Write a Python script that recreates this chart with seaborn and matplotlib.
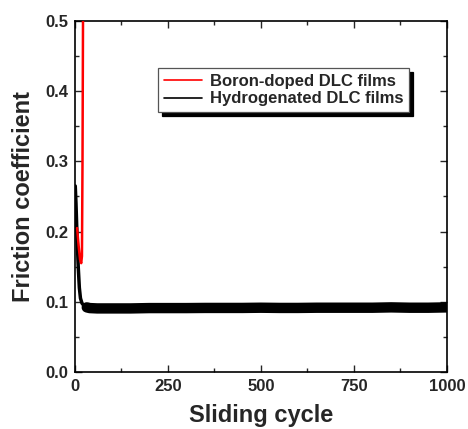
import numpy as np
import pandas as pd
import matplotlib
matplotlib.use('Agg')
import matplotlib.pyplot as plt
import seaborn as sns
from matplotlib.ticker import MultipleLocator
from matplotlib.lines import Line2D

# values
boron_cycle = [6, 10, 14, 17, 19, 20.5, 21.5, 22.5]
boron_cof = [0.205, 0.18, 0.16, 0.155, 0.165, 0.3, 0.45, 0.6]

hydro_cycle = [1, 3, 6, 9, 12, 15, 19, 25, 32, 40, 60, 100, 150, 200, 250, 300, 350, 400,
               450, 500, 550, 600, 650, 700, 750, 800, 850, 900, 950, 1000]
hydro_cof = [0.265, 0.24, 0.19, 0.15, 0.12, 0.105, 0.098, 0.094, 0.092, 0.091, 0.0905, 0.0905,
             0.0905, 0.091, 0.091, 0.091, 0.0912, 0.0912, 0.0912, 0.0915, 0.0912, 0.0912,
             0.0915, 0.0915, 0.0915, 0.0915, 0.092, 0.0915, 0.0915, 0.092]

boron = pd.DataFrame({'cycle': boron_cycle, 'cof': boron_cof})
hydro = pd.DataFrame({'cycle': hydro_cycle, 'cof': hydro_cof})
steady = hydro[hydro['cycle'] >= 32]  # the noisy band after running-in

sns.set_style('ticks')
plt.rcParams['font.family'] = ['Liberation Sans', 'DejaVu Sans']
plt.rcParams['font.weight'] = 'bold'

fig = plt.figure(figsize=(4.68, 4.29), dpi=100)
ax = fig.add_axes([0.160, 0.133, 0.795, 0.818])

sns.lineplot(data=hydro, x='cycle', y='cof', ax=ax, color='black', lw=2.5, zorder=2)
sns.lineplot(data=steady, x='cycle', y='cof', ax=ax, color='black', lw=7.5, zorder=2)
sns.lineplot(data=boron, x='cycle', y='cof', ax=ax, color='red', lw=1.8, zorder=3)

ax.set_xlim(0, 1000)
ax.set_ylim(0, 0.5)
ax.xaxis.set_major_locator(MultipleLocator(250))
ax.xaxis.set_minor_locator(MultipleLocator(125))
ax.yaxis.set_major_locator(MultipleLocator(0.1))
ax.yaxis.set_minor_locator(MultipleLocator(0.05))
ax.yaxis.set_major_formatter(plt.FormatStrFormatter('%.1f'))
ax.tick_params(which='both', direction='in', top=True, right=True, width=1, labelsize=12, pad=5)
ax.tick_params(which='major', length=5)
ax.tick_params(which='minor', length=3)
for lbl in ax.get_xticklabels() + ax.get_yticklabels():
    lbl.set_fontweight('bold')
for s in ax.spines.values():
    s.set_linewidth(1.2)
    s.set_color('black')

ax.set_xlabel('Sliding cycle', fontsize=17, fontweight='bold', labelpad=7)
ax.set_ylabel('Friction coefficient', fontsize=17, fontweight='bold', labelpad=7)

handles = [Line2D([], [], color='red', lw=1.2), Line2D([], [], color='black', lw=1.2)]
leg = ax.legend(handles, ['Boron-doped DLC films', 'Hydrogenated DLC films'],
                loc='upper left', bbox_to_anchor=(0.223, 0.866), borderaxespad=0,
                fancybox=False, prop={'size': 12, 'weight': 'bold'},
                handlelength=2.3, handletextpad=0.45, labelspacing=0.15, borderpad=0.35,
                shadow={'ox': 3, 'oy': -3, 'color': 'black', 'alpha': 1})
leg.get_frame().set_edgecolor('#555555')
leg.get_frame().set_linewidth(0.9)
leg.get_frame().set_alpha(1)

fig.savefig('out.png', dpi=100)
